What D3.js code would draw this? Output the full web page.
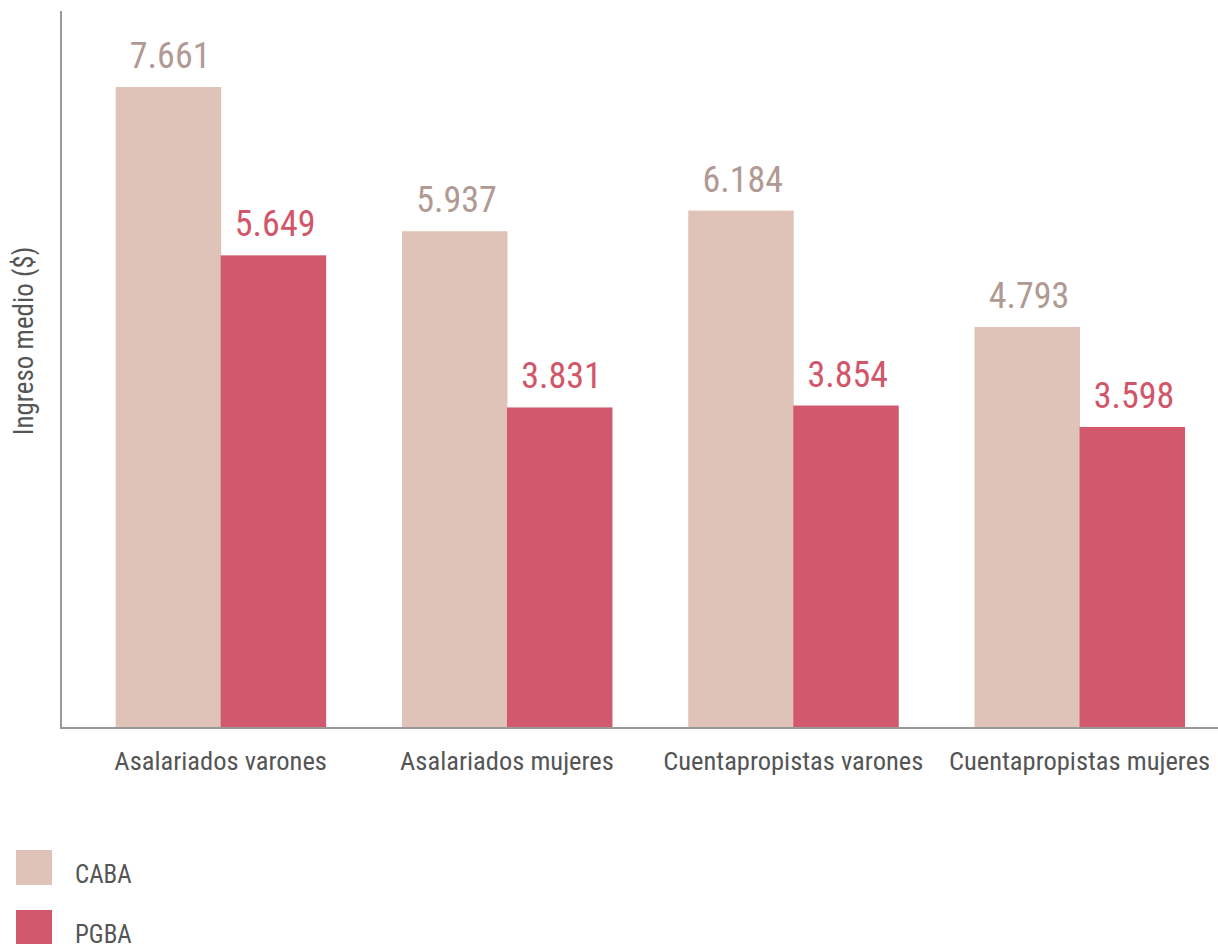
<!DOCTYPE html>
<html><head><meta charset="utf-8">
<script src="https://cdn.jsdelivr.net/npm/d3@7"></script>
<style>
body{margin:0;background:#fff;}
svg text{font-family:"Roboto Condensed","Liberation Sans Narrow","Open Sans",sans-serif;}
</style></head>
<body><svg id="chart" width="1218" height="944"></svg>
<script>
const categories = ["Asalariados varones","Asalariados mujeres","Cuentapropistas varones","Cuentapropistas mujeres"];
const seriesNames = ["CABA","PGBA"];
const cabaValues = [7661, 5937, 6184, 4793];
const pgbaValues = [5649, 3831, 3854, 3598];
const seriesColors = ["#e0c3b8","#d2596b"];
const labelColors = ["#b09a93","#d2566a"];
const yTitle = "Ingreso medio ($)";

const svg = d3.select("#chart");
const baseY = 728, topY = 11, axisX = 61;
const y = d3.scaleLinear().domain([0, 7661]).range([baseY, 87]);
const x0 = d3.scaleBand().domain(categories).range([77.5, 1222.7]).paddingInner(0.2665).paddingOuter(0.13325);
const x1 = d3.scaleBand().domain(seriesNames).range([0, x0.bandwidth()]);
const fmt = v => d3.format(",")(v).replace(/,/g, ".");

const data = categories.map((c,i)=>({cat:c, vals:[cabaValues[i], pgbaValues[i]]}));

const g = svg.append("g");
const groups = g.selectAll("g.grp").data(data).join("g")
  .attr("transform", d=>`translate(${x0(d.cat)},0)`);
groups.selectAll("rect").data(d=>d.vals.map((v,k)=>({k,v}))).join("rect")
  .attr("x", d=>x1(seriesNames[d.k]))
  .attr("y", d=>y(d.v))
  .attr("width", x1.bandwidth()+0.5)
  .attr("height", d=>baseY - y(d.v))
  .attr("fill", d=>seriesColors[d.k]);
groups.selectAll("text.val").data(d=>d.vals.map((v,k)=>({k,v}))).join("text")
  .attr("class","val")
  .attr("x", d=>x1(seriesNames[d.k]) + x1.bandwidth()/2 + 2)
  .attr("y", d=>y(d.v) - 19)
  .attr("text-anchor","middle")
  .attr("font-size", 36)
  .attr("fill", d=>labelColors[d.k])
  .text(d=>fmt(d.v));

// axes
const xAxis = d3.axisBottom(x0).tickSize(0).tickPadding(23);
const xa = svg.append("g").attr("transform",`translate(0,${baseY})`).call(xAxis);
xa.select(".domain").remove();
xa.selectAll("text").attr("font-size",26.5).attr("fill","#555").attr("dy","0.7em")
  .style("font-family",'"Roboto Condensed","Liberation Sans Narrow","Open Sans",sans-serif');
svg.append("line").attr("x1",axisX).attr("x2",1218).attr("y1",baseY).attr("y2",baseY)
  .attr("stroke","#999").attr("stroke-width",2);
svg.append("line").attr("x1",axisX).attr("x2",axisX).attr("y1",topY).attr("y2",baseY+1)
  .attr("stroke","#999").attr("stroke-width",2);

svg.append("text").attr("transform","translate(33,341) rotate(-90)")
  .attr("text-anchor","middle").attr("font-size",27).attr("fill","#555").text(yTitle);

// legend
const leg = svg.append("g").selectAll("g").data(seriesNames).join("g")
  .attr("transform",(d,i)=>`translate(16,${850+i*60})`);
leg.append("rect").attr("width",36).attr("height",35).attr("fill",(d,i)=>seriesColors[i]);
leg.append("text").attr("x",59).attr("y",33).attr("font-size",25).attr("fill","#555").text(d=>d);
</script></body></html>
